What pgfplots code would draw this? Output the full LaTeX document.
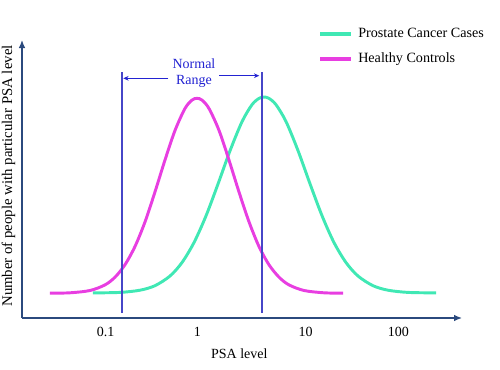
\documentclass[border=0pt]{standalone}
\usepackage{fontspec}
\setmainfont{Liberation Serif}
\usepackage{pgfplots}
\pgfplotsset{compat=1.18}
\usetikzlibrary{arrows.meta}
\definecolor{pinkc}{RGB}{232,62,225}
\definecolor{greenc}{RGB}{64,232,180}
\definecolor{axc}{RGB}{43,74,126}
\definecolor{linec}{RGB}{70,70,200}
\definecolor{textc}{RGB}{35,35,210}
\begin{document}
\fontsize{10.5}{12}\selectfont
\begin{tikzpicture}
\useasboundingbox (-16.5pt,-38.25pt) rectangle (358.5pt,238.5pt);
\begin{axis}[
  at={(0pt,0pt)}, anchor=south west,
  scale only axis, width=330pt, height=208.5pt,
  xmin=-1.829, xmax=2.642, ymin=0, ymax=278,
  axis lines=left,
  axis line style={draw=axc, line width=1pt},
  x axis line style={-{Latex[length=6pt,width=5pt]}},
  y axis line style={-{Latex[length=6pt,width=5pt]}},
  xtick={-0.979,-0.046,1.052,1.995}, xticklabels={0.1,1,10,100},
  ytick=\empty,
  major tick length=0pt,
  xticklabel style={anchor=base, inner sep=0pt, yshift=-13.5pt},
  /pgf/number format/assume math mode=true,
  xlabel={PSA level},
  xlabel style={at={(axis description cs:0.494,-0.1295)}, anchor=center},
  ylabel={Number of people with particular PSA level},
  ylabel style={at={(axis description cs:-0.0307,0.511)}, anchor=center, font=\fontsize{11.1}{13}\selectfont},
  clip=false,
  legend style={at={(axis description cs:0.673,1.047)}, anchor=north west, draw=none, fill=none,
    inner sep=0pt, row sep=8.75pt, column sep=3.9pt,
    nodes={inner sep=0pt, text height=7.5pt, text depth=2.5pt, anchor=west},
    font=\fontsize{10.6}{12}\selectfont},
  legend cell align=left,
  legend image code/.code={\draw[#1, line width=3pt] (0pt,0pt) -- (23pt,0pt);},
]
\addplot[greenc, line width=2.2pt, smooth] coordinates {
(-1.108,25.1) (-0.833,25.6) (-0.630,27.8) (-0.478,32.3) (-0.325,42.0) (-0.203,55.5)
(-0.081,75.5) (0.041,102.2) (0.163,134.1) (0.285,167.3) (0.407,196.4) (0.508,213.3)
(0.579,219.6) (0.630,221.0) (0.681,219.6) (0.752,213.3) (0.854,196.4) (0.976,167.3)
(1.098,134.1) (1.220,102.2) (1.341,75.5) (1.463,55.5) (1.585,42.0) (1.738,32.3)
(1.890,27.8) (2.093,25.6) (2.378,25.1)};
\addlegendentry{Prostate Cancer Cases}
\addplot[pinkc, line width=2.2pt, smooth] coordinates {
(-1.545,24.8) (-1.341,25.2) (-1.138,27.5) (-0.986,33.1) (-0.884,40.8) (-0.783,53.2)
(-0.681,71.5) (-0.579,96.1) (-0.478,126.0) (-0.376,158.0) (-0.274,187.6) (-0.173,209.5)
(-0.102,217.9) (-0.051,219.7) (0.000,217.9) (0.071,209.5) (0.173,187.6) (0.274,158.0)
(0.376,126.0) (0.478,96.1) (0.579,71.5) (0.681,53.2) (0.783,40.8) (0.884,33.1)
(1.037,27.5) (1.240,25.2) (1.433,24.8)};
\addlegendentry{Healthy Controls}
\addplot[linec, line width=0.8pt, forget plot] coordinates {(-0.813,5) (-0.813,246)};
\addplot[linec, line width=0.8pt, forget plot] coordinates {(0.610,5) (0.610,246)};
\draw[textc, line width=0.6pt, -{Stealth[length=4pt,width=3.5pt]}] (axis cs:-0.342,239.7) -- (axis cs:-0.800,239.7);
\draw[textc, line width=0.6pt, -{Stealth[length=4pt,width=3.5pt]}] (axis cs:0.176,242.3) -- (axis cs:0.582,242.3);
\node[textc, align=center, inner sep=0pt] at (axis cs:-0.0813,244.8) {Normal\\Range};
\end{axis}
\end{tikzpicture}
\end{document}
